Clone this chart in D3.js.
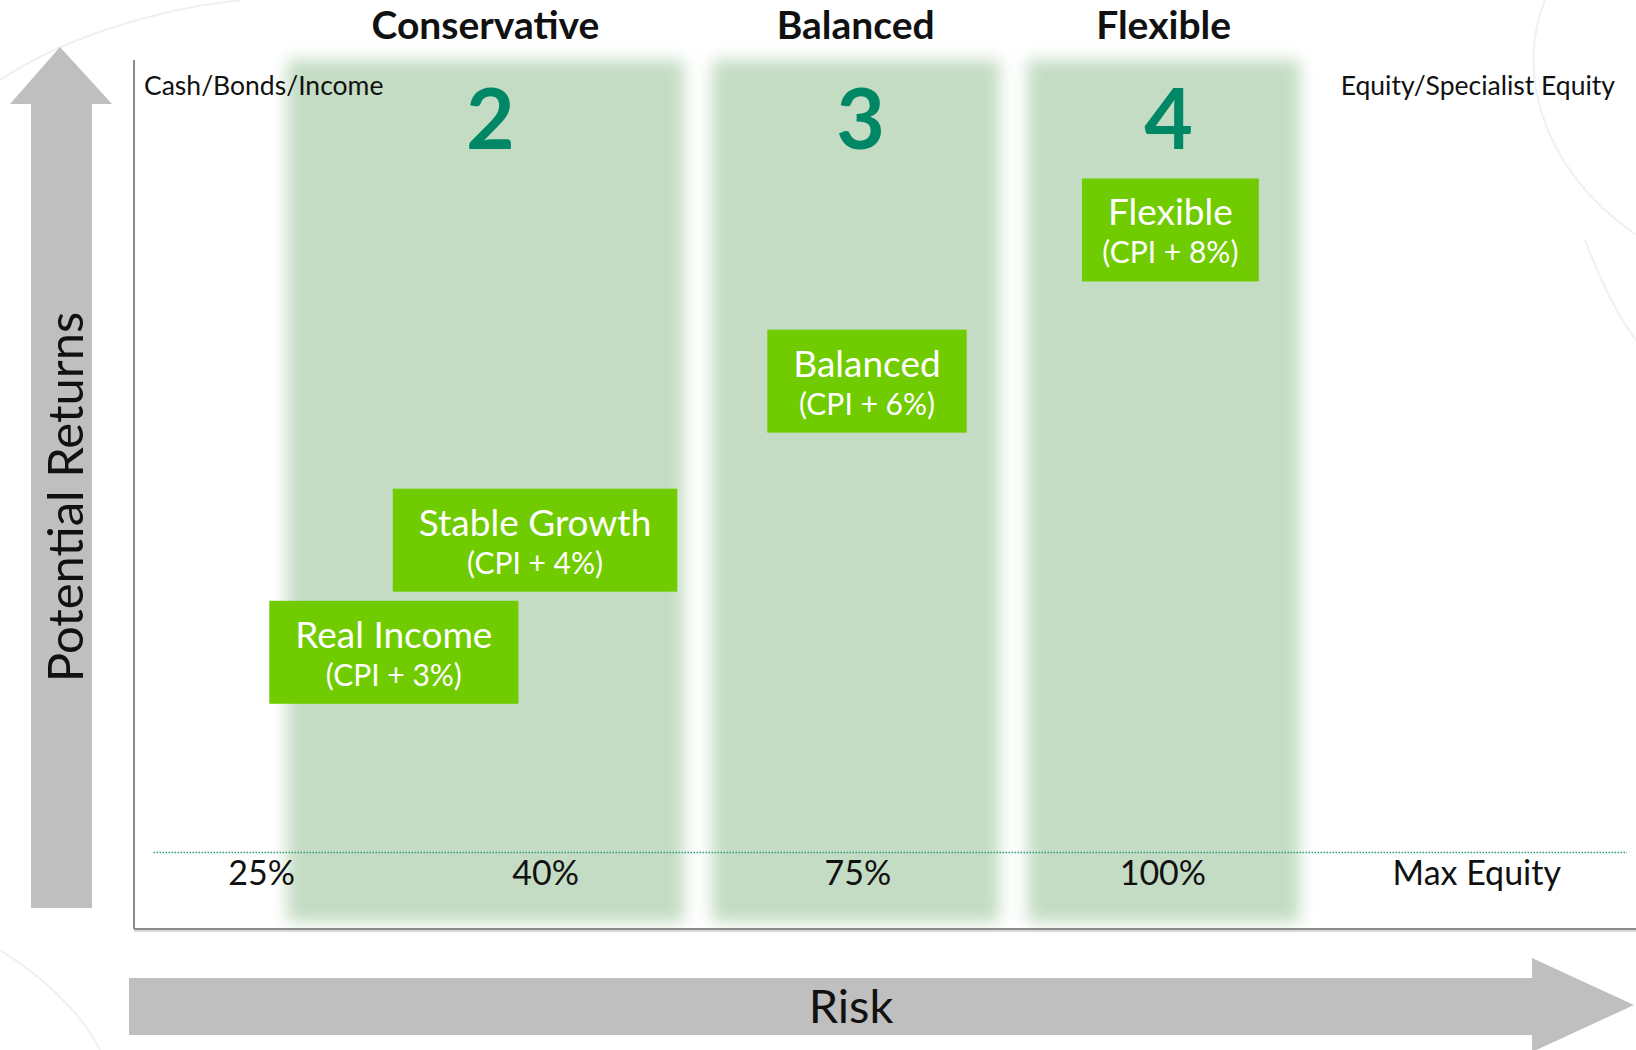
<!DOCTYPE html>
<html>
<head>
<meta charset="utf-8">
<script src="https://cdn.jsdelivr.net/npm/d3@7"></script>
<style>
  body { margin: 0; background: #fff; }
  svg { display: block; font-family: Lato, 'Open Sans', sans-serif; }
</style>
</head>
<body>
<div id="chart"></div>
<script>
// risk / return map of the fund range

var columns = ['Conservative', 'Balanced', 'Flexible']
var columnNumbers = ['2', '3', '4']
var bandStart = [10.2, 38.5, 59.5]
var bandEnd = [36.6, 57.6, 77.6]

var riskTicks = ['25%', '40%', '75%', '100%', 'Max Equity']
var riskTickPos = [8.5, 27.4, 48.2, 68.5, 89.4]

var funds = ['Real Income', 'Stable Growth', 'Balanced', 'Flexible']
var fundTargets = ['(CPI + 3%)', '(CPI + 4%)', '(CPI + 6%)', '(CPI + 8%)']
var fundRisk = [17.3, 26.7, 48.8, 69.0]
var fundReturn = [31.9, 44.8, 63.1, 80.5]

var width = 1636
var height = 1050
var plotLeft = 134
var plotTop = 60
var plotBottom = 929

var svg = d3.select('#chart')
    .append('svg')
    .attr('width', width)
    .attr('height', height)

var xScale = d3.scaleLinear().domain([0, 100]).range([plotLeft, width])
var yScale = d3.scaleLinear().domain([0, 100]).range([plotBottom, plotTop])

var defs = svg.append('defs')
defs.append('filter')
    .attr('id', 'soft')
    .attr('x', '-20%').attr('y', '-5%')
    .attr('width', '140%').attr('height', '110%')
    .append('feGaussianBlur')
    .attr('stdDeviation', 8)

// faint background swooshes
var swoosh = svg.append('g')
    .attr('fill', 'none')
    .attr('stroke', '#f0f0f0')
    .attr('stroke-width', 2)
swoosh.append('path').attr('d', 'M0,80 C60,40 150,10 240,0')
swoosh.append('path').attr('d', 'M0,950 C40,975 80,1010 100,1050')
swoosh.append('path').attr('d', 'M1545,0 C1520,60 1530,160 1636,235')
swoosh.append('path').attr('d', 'M1585,240 C1600,280 1620,320 1636,340')

// green bands
svg.append('g')
    .selectAll('rect')
    .data(columns)
    .enter()
    .append('rect')
    .attr('x', (d, i) => xScale(bandStart[i]))
    .attr('width', (d, i) => xScale(bandEnd[i]) - xScale(bandStart[i]))
    .attr('y', yScale(100))
    .attr('height', yScale(0.8) - yScale(100))
    .attr('fill', '#c3dcc3')
    .attr('filter', 'url(#soft)')

// column headers + numbers
var heads = svg.append('g')
heads.selectAll('text.head')
    .data(columns)
    .enter()
    .append('text')
    .attr('class', 'head')
    .attr('x', (d, i) => xScale((bandStart[i] + bandEnd[i]) / 2))
    .attr('y', 39)
    .attr('text-anchor', 'middle')
    .attr('font-size', 39)
    .attr('font-weight', 'bold')
    .attr('fill', '#111')
    .text((d) => d)

heads.selectAll('text.num')
    .data(columnNumbers)
    .enter()
    .append('text')
    .attr('class', 'num')
    .attr('x', (d, i) => xScale((bandStart[i] + bandEnd[i]) / 2) + 5)
    .attr('y', 149)
    .attr('text-anchor', 'middle')
    .attr('font-size', 84)
    .attr('font-weight', 'bold')
    .attr('fill', '#008866')
    .text((d) => d)

// corner labels
svg.append('text')
    .attr('x', plotLeft + 10)
    .attr('y', 95)
    .attr('font-size', 26.5)
    .attr('fill', '#111')
    .text('Cash/Bonds/Income')

svg.append('text')
    .attr('x', width - 21)
    .attr('y', 95)
    .attr('text-anchor', 'end')
    .attr('font-size', 26.5)
    .attr('fill', '#111')
    .text('Equity/Specialist Equity')

// axes
svg.append('line')
    .attr('x1', plotLeft).attr('x2', plotLeft)
    .attr('y1', plotTop).attr('y2', plotBottom)
    .attr('stroke', '#8a8a8a').attr('stroke-width', 2)

svg.append('line')
    .attr('x1', plotLeft).attr('x2', width)
    .attr('y1', plotBottom + 2).attr('y2', plotBottom + 2)
    .attr('stroke', '#d8d8d8').attr('stroke-width', 2)
svg.append('line')
    .attr('x1', plotLeft).attr('x2', width)
    .attr('y1', plotBottom).attr('y2', plotBottom)
    .attr('stroke', '#8a8a8a').attr('stroke-width', 2)

// dotted risk line and tick labels
svg.append('line')
    .attr('x1', xScale(1.3)).attr('x2', xScale(99.4))
    .attr('y1', yScale(8.8)).attr('y2', yScale(8.8))
    .attr('stroke', '#2a9a7c')
    .attr('stroke-width', 1.5)
    .attr('stroke-dasharray', '1.5,1.5')

svg.append('g')
    .selectAll('text')
    .data(riskTicks)
    .enter()
    .append('text')
    .attr('x', (d, i) => xScale(riskTickPos[i]))
    .attr('y', yScale(8.8) + 32)
    .attr('text-anchor', 'middle')
    .attr('font-size', 34)
    .attr('fill', '#111')
    .text((d) => d)

// fund boxes
var boxes = svg.append('g')
    .selectAll('g')
    .data(funds)
    .enter()
    .append('g')
    .attr('transform', (d, i) => 'translate(' + xScale(fundRisk[i]) + ',' + yScale(fundReturn[i]) + ')')

var boxRects = boxes.append('rect')
    .attr('fill', '#70cc00')

boxes.append('text')
    .attr('class', 'title')
    .attr('y', -4)
    .attr('text-anchor', 'middle')
    .attr('font-size', 37)
    .attr('fill', '#fff')
    .text((d) => d)

boxes.append('text')
    .attr('y', 34)
    .attr('text-anchor', 'middle')
    .attr('font-size', 30)
    .attr('fill', '#fff')
    .text((d, i) => fundTargets[i])

boxRects.each(function () {
    var g = d3.select(this.parentNode)
    var w = g.select('text.title').node().getBBox().width + 52
    d3.select(this)
        .attr('x', -w / 2)
        .attr('width', w)
        .attr('y', -51)
        .attr('height', 103)
})

// arrows
svg.append('path')
    .attr('d', 'M31,908 L31,104 L10,104 L60,47 L112,104 L92,104 L92,908 Z')
    .attr('fill', '#bfbfbf')

svg.append('path')
    .attr('d', 'M129,978 L1532,978 L1532,958 L1634,1005 L1532,1052 L1532,1035 L129,1035 Z')
    .attr('fill', '#bfbfbf')

svg.append('text')
    .attr('x', 851)
    .attr('y', 1023)
    .attr('text-anchor', 'middle')
    .attr('font-size', 47)
    .attr('fill', '#111')
    .text('Risk')

svg.append('text')
    .attr('transform', 'translate(83,497)rotate(-90)')
    .attr('text-anchor', 'middle')
    .attr('font-size', 49)
    .attr('fill', '#111')
    .text('Potential Returns')
</script>
</body>
</html>
